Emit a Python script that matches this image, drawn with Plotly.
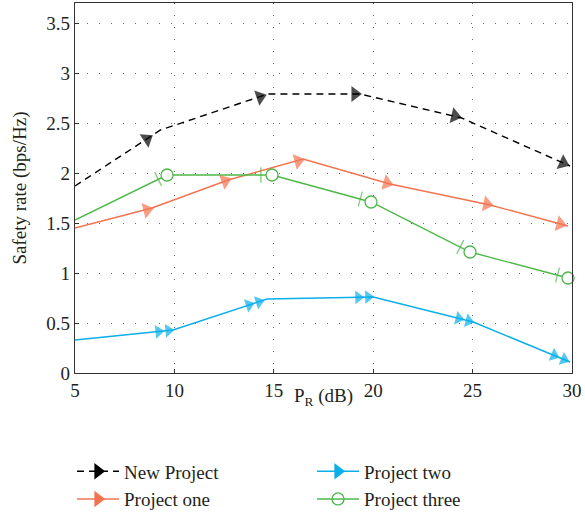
import plotly.graph_objects as go

# ---- data ----
x_new = [5, 9.3, 14.7, 19.35, 24.45, 29.9]
y_new = [1.87, 2.43, 2.79, 2.79, 2.55, 2.07]
mx_new = [8.62, 14.31, 19.08, 24.11, 29.55]
my_new = [2.34, 2.76, 2.79, 2.57, 2.10]

x_one = [5, 8.87, 12.70, 16.47, 20.85, 25.88, 29.8]
y_one = [1.45, 1.65, 1.93, 2.14, 1.89, 1.68, 1.47]
mx_one = [8.62, 12.55, 16.22, 20.69, 25.72, 29.4]
my_one = [1.63, 1.92, 2.12, 1.90, 1.69, 1.49]

x_two = [5, 9.93, 14.66, 20.0, 25.03, 29.9]
y_two = [0.33, 0.43, 0.74, 0.76, 0.51, 0.11]
mx_two_a = [9.2, 13.75, 19.25, 24.3, 29.1]
my_two_a = [0.415, 0.68, 0.757, 0.546, 0.176]
mx_two_b = [9.7, 14.25, 19.75, 24.8, 29.6]
my_two_b = [0.425, 0.71, 0.76, 0.52, 0.135]

x_three = [5, 9.63, 14.91, 19.89, 24.87, 29.8]
y_three = [1.53, 1.98, 1.98, 1.71, 1.21, 0.95]
tx_three = [9.18, 14.35, 19.35, 24.38, 29.27]
ty_three = [1.94, 1.98, 1.74, 1.26, 0.98]

x_ticks = [5, 10, 15, 20, 25, 30]
y_ticks = [0, 0.5, 1, 1.5, 2, 2.5, 3, 3.5]
y_ticktext = ["0", "0.5", "1", "1.5", "2", "2.5", "3", "3.5"]

names = ["New Project", "Project one", "Project two", "Project three"]
x_title = "P<sub>R</sub> (dB)"
y_title = "Safety rate (bps/Hz)"

BLACK = "#000000"
RED = "#F37350"
BLUE = "#0AAFEA"
GREEN = "#4DB848"
FONT = "Liberation Serif"
TXT = "#231F20"


def marker_points(xv, yv, mark_lists, size):
    """Markers along each segment, each preceded by the segment start
    (size 0) so that angleref='previous' orients them with the segment."""
    xs, ys, ss = [], [], []
    for k in range(len(mark_lists[0][0])):
        xs.append(xv[k]); ys.append(yv[k]); ss.append(0)
        for mxl, myl in mark_lists:
            xs.append(mxl[k]); ys.append(myl[k]); ss.append(size)
    return xs, ys, ss


fig = go.Figure()

# lines
fig.add_trace(go.Scatter(x=x_new, y=y_new, mode="lines", showlegend=False,
                         line=dict(color=BLACK, width=1.4, dash="7px,5px")))
fig.add_trace(go.Scatter(x=x_one, y=y_one, mode="lines", showlegend=False,
                         line=dict(color=RED, width=1.4)))
fig.add_trace(go.Scatter(x=x_two, y=y_two, mode="lines", showlegend=False,
                         line=dict(color=BLUE, width=1.4)))
fig.add_trace(go.Scatter(x=x_three, y=y_three, mode="lines", showlegend=False,
                         line=dict(color=GREEN, width=1.4)))

# arrow markers
for xv, yv, lists, color, size in [
    (x_new, y_new, [(mx_new, my_new)], BLACK, 14),
    (x_one, y_one, [(mx_one, my_one)], RED, 14),
    (x_two, y_two, [(mx_two_a, my_two_a), (mx_two_b, my_two_b)], BLUE, 12),
]:
    xs, ys, ss = marker_points(xv, yv, lists, size)
    fig.add_trace(go.Scatter(x=xs, y=ys, mode="markers", showlegend=False,
                             cliponaxis=False,
                             marker=dict(symbol="triangle-up", size=ss, color=color,
                                         angleref="previous", line=dict(width=0))))

# green ticks and circles
xs, ys, ss = marker_points(x_three, y_three, [(tx_three, ty_three)], 11)
fig.add_trace(go.Scatter(x=xs, y=ys, mode="markers", showlegend=False, cliponaxis=False,
                         marker=dict(symbol="line-ew", size=ss, color=GREEN,
                                     angleref="previous", line=dict(width=1.3, color=GREEN))))
fig.add_trace(go.Scatter(x=x_three[1:], y=y_three[1:], mode="markers", showlegend=False,
                         cliponaxis=False,
                         marker=dict(symbol="circle", size=12, color="white",
                                     line=dict(width=1.3, color=GREEN))))

# legend entries
legend_specs = [
    (names[0], BLACK, "7px,5px", "triangle-right", 1, "black"),
    (names[2], BLUE, "solid", "triangle-right", 2, BLUE),
    (names[1], RED, "solid", "triangle-right", 3, RED),
    (names[3], GREEN, "solid", "circle-open", 4, GREEN),
]
for name, color, dash, sym, rank, mc in legend_specs:
    fig.add_trace(go.Scatter(x=[None], y=[None], mode="lines+markers", name=name,
                             legendrank=rank,
                             line=dict(color=color, width=1.4, dash=dash),
                             marker=dict(symbol=sym, size=12, color=mc,
                                         line=dict(color=color, width=1.3))))

axis_common = dict(showline=True, mirror=True, linecolor="#333333", linewidth=1.2,
                   ticks="inside", ticklen=4, tickcolor="#333333", automargin=False,
                   showgrid=True, gridcolor="#666666", gridwidth=1, griddash="1px,11px",
                   zeroline=False, tickfont=dict(family=FONT, size=19, color=TXT))

fig.update_layout(
    width=585, height=515,
    margin=dict(l=75, r=13, t=3, b=142, autoexpand=False),
    paper_bgcolor="white", plot_bgcolor="white",
    font=dict(family=FONT, size=19, color=TXT),
    xaxis=dict(range=[5, 30], tickvals=x_ticks, **axis_common),
    yaxis=dict(range=[0, 3.7], tickvals=y_ticks, ticktext=y_ticktext,
               title=dict(text=y_title, font=dict(family=FONT, size=19), standoff=14),
               **axis_common),
    legend=dict(orientation="h", x=-0.006, xanchor="left", y=-0.2146, yanchor="top",
                entrywidth=183, entrywidthmode="pixels", traceorder="normal",
                font=dict(family=FONT, size=19, color=TXT),
                itemwidth=42, tracegroupgap=0, bgcolor="rgba(0,0,0,0)"),
    annotations=[dict(text=x_title, xref="paper", yref="paper", x=0.5, y=-0.066,
                      xanchor="center", yanchor="middle", showarrow=False,
                      font=dict(family=FONT, size=19, color=TXT))],
)

fig.write_html("out.html", config={"displayModeBar": False},
               post_script="document.body.style.margin='0px';")
